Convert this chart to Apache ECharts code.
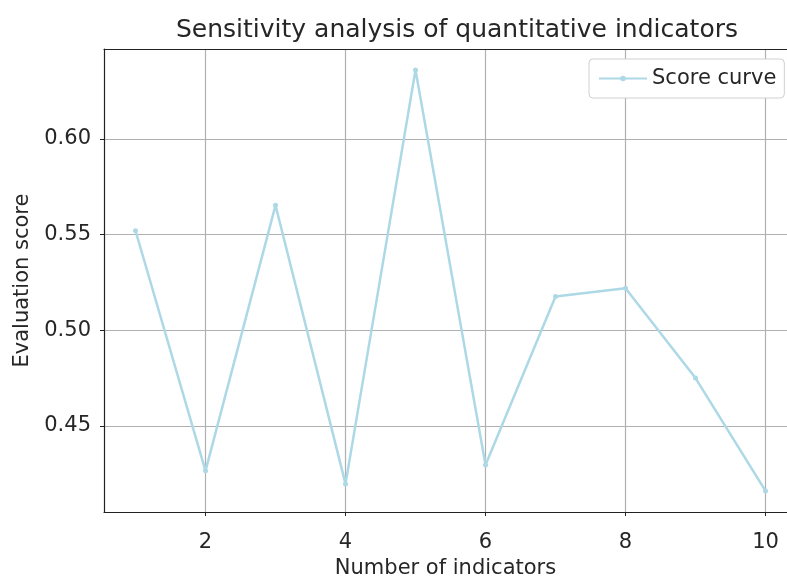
<!DOCTYPE html>
<html>
<head>
<meta charset="utf-8">
<script src="https://cdn.jsdelivr.net/npm/echarts@6/dist/echarts.min.js"></script>
<style>html,body{margin:0;padding:0;background:#fff;}#c{width:787px;height:579px;}</style>
</head>
<body>
<div id="c"></div>
<script>
const indicators = [1, 2, 3, 4, 5, 6, 7, 8, 9, 10];
const scores = [0.552, 0.4265, 0.5653, 0.4197, 0.636, 0.4296, 0.5176, 0.522, 0.475, 0.416];
const xTicks = [2, 4, 6, 8, 10];
const yTicks = [0.45, 0.50, 0.55, 0.60];

const FONT = 'DejaVu Sans';
const TXT = '#262626';
const chart = echarts.init(document.getElementById('c'), null, {renderer: 'canvas'});
chart.setOption({
  animation: false,
  backgroundColor: '#fff',
  title: {
    text: 'Sensitivity analysis of quantitative indicators',
    left: 452, top: 13, textAlign: 'center',
    textStyle: {fontFamily: FONT, fontSize: 25, fontWeight: 'normal', color: TXT}
  },
  legend: {
    data: ['Score curve'],
    left: 589, top: 59,
    padding: [9, 8, 9, 9],
    itemWidth: 48, itemHeight: 7, itemGap: 15,
    backgroundColor: '#fff',
    borderColor: '#d0d0d0', borderWidth: 1, borderRadius: 4,
    textStyle: {fontFamily: FONT, fontSize: 21, color: TXT}
  },
  grid: {left: 104, top: 49, right: 0, bottom: 67, show: false, containLabel: false, outerBoundsMode: 'none'},
  xAxis: [{
    type: 'value', min: 0.55, max: 10.307,
    name: 'Number of indicators', nameLocation: 'middle', nameGap: 42,
    nameTextStyle: {fontFamily: FONT, fontSize: 21, color: TXT},
    axisLine: {show: true, lineStyle: {color: '#222', width: 1.2}},
    axisTick: {show: true, length: 4, customValues: xTicks, lineStyle: {color: '#222'}},
    axisLabel: {customValues: xTicks, fontFamily: FONT, fontSize: 21, color: TXT, margin: 20},
    splitLine: {show: true, lineStyle: {color: '#b0b0b0', width: 1.2}}
  }, {
    type: 'value', position: 'top', min: 0.55, max: 10.307,
    axisLine: {show: true, lineStyle: {color: '#222', width: 1.2}},
    axisTick: {show: false}, axisLabel: {show: false}, splitLine: {show: false}
  }],
  yAxis: {
    type: 'value', min: 0.405, max: 0.647,
    name: 'Evaluation score', nameLocation: 'middle', nameGap: 71, nameRotate: 90,
    nameTextStyle: {fontFamily: FONT, fontSize: 21, color: TXT},
    axisLine: {show: true, lineStyle: {color: '#222', width: 1.2}},
    axisTick: {show: true, length: 4, customValues: yTicks, lineStyle: {color: '#222'}},
    axisLabel: {customValues: yTicks, fontFamily: FONT, fontSize: 21, color: TXT, margin: 13,
      formatter: v => v.toFixed(2)},
    splitLine: {show: true, lineStyle: {color: '#b0b0b0', width: 1.2}}
  },
  series: [{
    name: 'Score curve',
    type: 'line',
    xAxisIndex: 0,
    data: indicators.map((x, i) => [x, scores[i]]),
    symbol: 'circle', symbolSize: 5, showSymbol: true,
    lineStyle: {color: '#add8e6', width: 2.5},
    itemStyle: {color: '#add8e6'}
  }]
});
</script>
</body>
</html>
